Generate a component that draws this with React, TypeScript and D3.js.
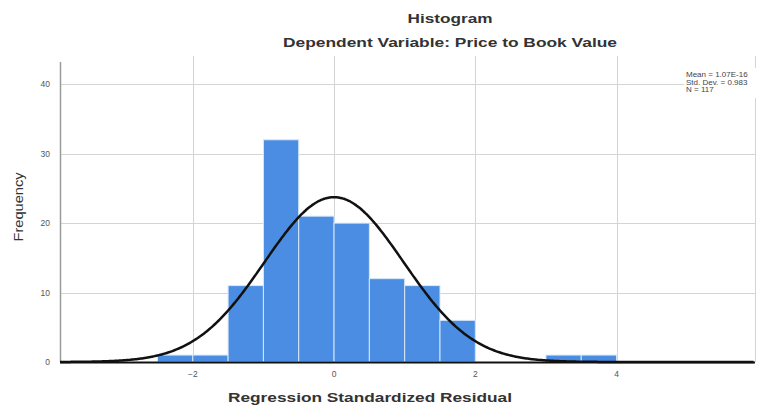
import { useEffect, useRef } from "react";
import * as d3 from "d3";

// histogram bins (lower edge, upper edge, count)
const binStarts = [-2.5, -2, -1.5, -1, -0.5, 0, 0.5, 1, 1.5, 2, 2.5, 3, 3.5];
const binCounts = [1, 1, 11, 32, 21, 20, 12, 11, 6, 0, 0, 1, 1];
const binWidth = 0.5;

const xTicks = [-2, 0, 2, 4];
const yTicks = [0, 10, 20, 30, 40];

const mean = 1.07e-16;
const stdDev = 0.983;
const n = 117;
const statLines = ["Mean = 1.07E-16", "Std. Dev. = 0.983", "N = 117"];

export default function App() {
  const svgRef = useRef<SVGSVGElement>(null);

  useEffect(() => {
    if (!svgRef.current) return;
    const svg = d3.select(svgRef.current);
    svg.selectAll("*").remove();

    const width = 777;
    const height = 405;
    const plot = { left: 60, right: 755, top: 62, bottom: 362 };
    const font = "'Liberation Sans', Arial, sans-serif";

    const x = d3.scaleLinear().domain([-3.88, 5.96]).range([plot.left, plot.right]);
    const y = d3.scaleLinear().domain([0, 43.2]).range([plot.bottom, plot.top]);

    svg.attr("viewBox", `0 0 ${width} ${height}`);
    svg.append("rect").attr("width", width).attr("height", height).attr("fill", "#fff");

    // grid
    const grid = svg.append("g").attr("stroke", "#d4d4d4").attr("stroke-width", 1);
    grid.selectAll("line.h")
      .data(yTicks.filter((d) => d > 0))
      .enter()
      .append("line")
      .attr("x1", plot.left)
      .attr("x2", plot.right)
      .attr("y1", (d) => Math.round(y(d)) + 0.5)
      .attr("y2", (d) => Math.round(y(d)) + 0.5);
    grid.selectAll("line.v")
      .data(xTicks)
      .enter()
      .append("line")
      .attr("x1", (d) => Math.round(x(d)) + 0.5)
      .attr("x2", (d) => Math.round(x(d)) + 0.5)
      .attr("y1", plot.top - 6)
      .attr("y2", plot.bottom);
    grid.append("line")
      .attr("x1", plot.right + 0.5)
      .attr("x2", plot.right + 0.5)
      .attr("y1", plot.top - 6)
      .attr("y2", plot.bottom);

    // bars
    const bins = binStarts.map((s, i) => ({ x0: s, x1: s + binWidth, count: binCounts[i] }));
    svg.append("g")
      .selectAll("rect")
      .data(bins.filter((b) => b.count > 0))
      .enter()
      .append("rect")
      .attr("x", (d) => x(d.x0))
      .attr("y", (d) => y(d.count))
      .attr("width", (d) => x(d.x1) - x(d.x0))
      .attr("height", (d) => y(0) - y(d.count))
      .attr("fill", "#4a8de2")
      .attr("stroke", "#d6e8fb")
      .attr("stroke-width", 1);

    // axes lines
    svg.append("line")
      .attr("x1", plot.left + 0.5)
      .attr("x2", plot.left + 0.5)
      .attr("y1", plot.top)
      .attr("y2", plot.bottom)
      .attr("stroke", "#9a9a9a")
      .attr("stroke-width", 1.5);

    // normal curve
    const scale = n * binWidth;
    const pts = d3.range(-3.88, 5.96, 0.02).map((v) => [
      v,
      (scale / (stdDev * Math.sqrt(2 * Math.PI))) *
        Math.exp(-0.5 * ((v - mean) / stdDev) ** 2),
    ]);
    svg.append("path")
      .datum(pts)
      .attr("fill", "none")
      .attr("stroke", "#111")
      .attr("stroke-width", 2.5)
      .attr(
        "d",
        d3.line<number[]>()
          .x((d) => x(d[0]))
          .y((d) => y(d[1]))
          .curve(d3.curveBasis),
      );

    svg.append("line")
      .attr("x1", plot.left)
      .attr("x2", plot.right)
      .attr("y1", plot.bottom + 0.5)
      .attr("y2", plot.bottom + 0.5)
      .attr("stroke", "#111")
      .attr("stroke-width", 2);

    // tick labels
    svg.append("g")
      .selectAll("text")
      .data(yTicks)
      .enter()
      .append("text")
      .attr("x", plot.left - 10)
      .attr("y", (d) => y(d) + 3)
      .attr("text-anchor", "end")
      .attr("font-family", font)
      .attr("font-size", 8.5)
      .attr("fill", "#555")
      .text((d) => d);
    svg.append("g")
      .selectAll("text")
      .data(xTicks)
      .enter()
      .append("text")
      .attr("x", (d) => x(d))
      .attr("y", plot.bottom + 15)
      .attr("text-anchor", "middle")
      .attr("font-family", font)
      .attr("font-size", 8.5)
      .attr("fill", "#555")
      .text((d) => (d < 0 ? "\u2212" + Math.abs(d) : d));

    // titles
    const title = (
      txt: string,
      tx: number,
      ty: number,
      size: number,
      len: number,
      bold = true,
      rotate = false,
    ) =>
      svg.append("text")
        .attr("transform", `translate(${tx},${ty})${rotate ? " rotate(-90)" : ""}`)
        .attr("text-anchor", "middle")
        .attr("font-family", font)
        .attr("font-weight", bold ? "bold" : "normal")
        .attr("font-size", size)
        .attr("fill", "#333")
        .attr("textLength", len)
        .attr("lengthAdjust", "spacingAndGlyphs")
        .text(txt);

    title("Histogram", 450, 23, 13, 85);
    title("Dependent Variable: Price to Book Value", 450, 47, 13, 334);
    title("Regression Standardized Residual", 370, 402, 13.5, 284);
    title("Frequency", 23, 207, 13, 69, false, true);

    // stats box
    const stats = svg.append("g");
    stats.append("rect")
      .attr("x", 684)
      .attr("y", 68)
      .attr("width", 93)
      .attr("height", 30)
      .attr("fill", "#fff");
    stats.selectAll("text")
      .data(statLines)
      .enter()
      .append("text")
      .attr("x", 686)
      .attr("y", (_, i) => 77 + i * 7.5)
      .attr("font-family", font)
      .attr("font-size", 8)
      .attr("fill", "#444")
      .text((d) => d);
  }, []);

  return (
    <svg
      ref={svgRef}
      width={777}
      height={405}
      style={{ position: "absolute", left: 0, top: 0, display: "block" }}
    />
  );
}
